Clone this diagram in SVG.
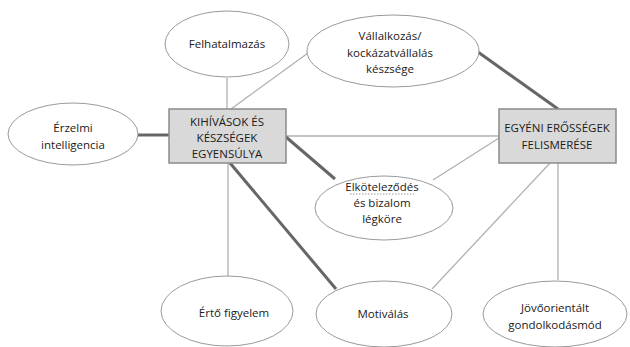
<svg xmlns="http://www.w3.org/2000/svg" width="630" height="347" viewBox="0 0 630 347">
<style>
.bg{fill:#ffffff}
.ell{fill:#ffffff;stroke:#9a9a9a;stroke-width:1}
.box{fill:#d9d9d9;stroke:#8a8a8a;stroke-width:1.5}
.thin{stroke:#b0b0b0;stroke-width:1.3;fill:none}
.thick{stroke:#666666;stroke-width:3;fill:none}
text{font-family:"Open Sans","Liberation Sans",sans-serif;font-size:11.5px;fill:#1a1a1a;text-anchor:middle}
</style>
<rect class="bg" x="0" y="0" width="630" height="347"/>
<g id="connectors">
<line class="thin" x1="227" y1="78" x2="227" y2="109"/>
<line class="thin" x1="231" y1="109" x2="308" y2="53"/>
<line class="thick" x1="138" y1="135" x2="169" y2="135"/>
<line class="thin" x1="286" y1="136" x2="499" y2="136"/>
<line class="thick" x1="286" y1="137" x2="335" y2="179"/>
<line class="thin" x1="228" y1="163" x2="228" y2="276"/>
<line class="thick" x1="230" y1="163" x2="336" y2="289"/>
<line class="thick" x1="478" y1="52" x2="558" y2="109"/>
<line class="thin" x1="499" y1="138" x2="433" y2="180"/>
<line class="thin" x1="550" y1="163" x2="432" y2="289"/>
<line class="thin" x1="558" y1="163" x2="558" y2="280"/>
</g>
<g id="felhatalmazas">
<ellipse class="ell" cx="227" cy="44" rx="62" ry="33"/>
<text x="227" y="48">Felhatalmazás</text>
</g>
<g id="erzelmi">
<ellipse class="ell" cx="73" cy="134" rx="65" ry="31"/>
<text x="73" y="132">Érzelmi</text>
<text x="73" y="149">intelligencia</text>
</g>
<g id="kihivasok">
<rect class="box" x="169" y="109" width="117" height="54"/>
<text x="227" y="126">KIHÍVÁSOK ÉS</text>
<text x="227" y="142">KÉSZSÉGEK</text>
<text x="227" y="158">EGYENSÚLYA</text>
</g>
<g id="vallalkozas">
<ellipse class="ell" cx="393" cy="51" rx="86" ry="36"/>
<text x="390" y="40">Vállalkozás/</text>
<text x="390" y="57">kockázatvállalás</text>
<text x="390" y="73">készsége</text>
</g>
<g id="egyeni">
<rect class="box" x="499" y="109" width="117" height="54"/>
<text x="557" y="132">EGYÉNI ERŐSSÉGEK</text>
<text x="557" y="149">FELISMERÉSE</text>
</g>
<g id="elkotelezodes">
<ellipse class="ell" cx="384" cy="208" rx="69" ry="32"/>
<text x="382" y="191">Elköteleződés</text>
<line x1="350" y1="194" x2="414" y2="194" stroke="#9a9a9a" stroke-width="1" stroke-dasharray="1.5,1.5"/>
<text x="382" y="207">és bizalom</text>
<text x="382" y="223">légköre</text>
</g>
<g id="erto">
<ellipse class="ell" cx="227" cy="311" rx="66" ry="35"/>
<text x="234" y="317">Értő figyelem</text>
</g>
<g id="motivalas">
<ellipse class="ell" cx="384" cy="314" rx="68" ry="33"/>
<text x="383" y="318">Motiválás</text>
</g>
<g id="jovoorientalt">
<ellipse class="ell" cx="555" cy="314" rx="72" ry="33"/>
<text x="555" y="312">Jövőorientált</text>
<text x="555" y="329">gondolkodásmód</text>
</g>
</svg>
